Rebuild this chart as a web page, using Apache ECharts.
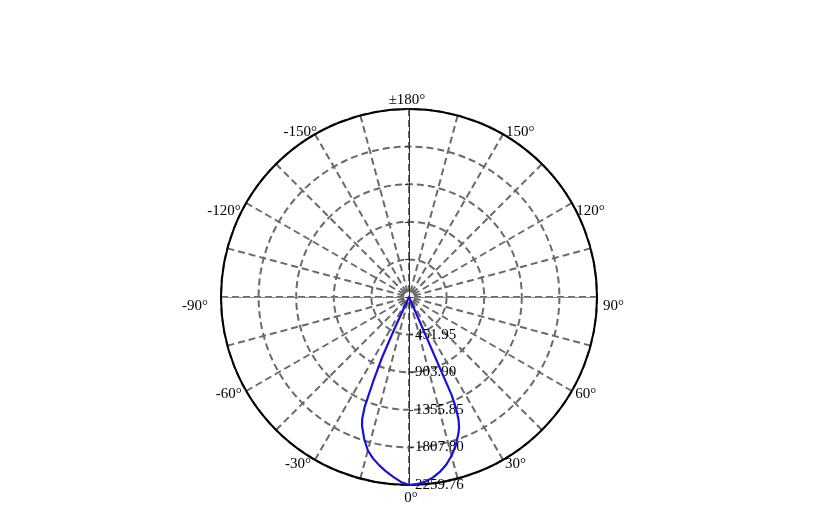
<!DOCTYPE html>
<html>
	<head>
		<meta charset="UTF-8">
		<title>配光曲线</title>
		<style type="text/css">
			body{
				margin: 0;
				background: #fff;
			}
			#main{
				width: 824px;
				height: 527px;
			}
		</style>
	</head>
	<body>
		<div id="main"></div>
		<script src="https://cdn.jsdelivr.net/npm/echarts@6.0.0/dist/echarts.min.js" type="text/javascript"></script>
		<script type="text/javascript">
			// 角度(°) 与 光强
			var angles = [-180, -90, -30, -25.5, -24.5, -24, -23, -22, -21, -20, -17.5, -15, -12.5, -10, -7.5, -5, -2.5,
				0, 2.5, 5, 7.5, 10, 12.5, 15, 17.5, 20, 21, 22, 23, 23.5, 24.5, 30, 90, 180];
			var intensity = [0, 0, 0, 20, 450, 800, 1100, 1420, 1570, 1650, 1790, 1910, 1990, 2055, 2115, 2170, 2225,
				2259.76, 2250, 2230, 2190, 2135, 2065, 1975, 1870, 1740, 1680, 1590, 1440, 1280, 20, 0, 0, 0];
			// 刻度
			var maxIntensity = 2259.76;
			var radiusLabels = ['451.95', '903.90', '1355.85', '1807.80', '2259.76'];
			var angleTicks = [0, 30, 60, 90, 120, 150, 180, 210, 240, 270, 300, 330];
			var angleLabels = ['0°', '30°', '60°', '90°', '120°', '150°', '±180°', '-150°', '-120°', '-90°', '-60°', '-30°'];

			// 角度标签的微调 [dx, dy] (负的 padding 只起一半作用, 所以数值偏大)
			var labelNudge = [[2, 3], [0, -13], [0, -13], [2, 9], [1, 35], [1, 18], [-2, 6],
				[4, 18], [-2, 36], [-9, 9], [-1, -13], [-2, -13]];

			var font = 'Liberation Serif, Times New Roman, serif';
			var fontSize = 15;
			var center = [409, 297];
			var R = 188;
			var step = maxIntensity / radiusLabels.length;

			var data = [];
			for(var i = 0; i < angles.length; i++){
				data.push([intensity[i], angles[i]]);
			}

			// 按 echarts 的对齐规则换算成 padding
			var rich = {};
			for(var k = 0; k < angleTicks.length; k++){
				var a = angleTicks[k] * Math.PI / 180;
				var sx = Math.sin(a), sy = Math.cos(a);
				var dx = labelNudge[k][0], dy = labelNudge[k][1];
				var p = [0, 0, 0, 0];
				if(Math.abs(sx) < 0.3){
					if(dx > 0) p[3] = 2 * dx; else p[1] = -2 * dx;
				}else if(sx > 0){
					p[3] = dx;
				}else{
					p[1] = -dx;
				}
				if(Math.abs(sy) < 0.3){
					if(dy > 0) p[0] = 2 * dy; else p[2] = -2 * dy;
				}else if(sy > 0){
					p[0] = dy;
				}else{
					p[2] = -dy;
				}
				rich['a' + k] = {
					color: '#000',
					fontSize: fontSize,
					fontFamily: font,
					lineHeight: fontSize,
					padding: p
				};
			}

			// 辅助的细线(竖直/水平)
			function helperAngle(idx, start){
				return {
					polarIndex: idx, type: 'value', min: 0, max: 360, startAngle: start,
					axisLine: {show: false}, axisTick: {show: false},
					axisLabel: {show: false}, splitLine: {show: false}
				};
			}
			function helperRadius(idx, color, ticks){
				return {
					polarIndex: idx, type: 'value', min: 0, max: maxIntensity, interval: step,
					axisLine: {show: true, lineStyle: {color: color, width: 1}},
					axisTick: {show: ticks, length: 4, lineStyle: {color: color}},
					axisLabel: {show: false}, splitLine: {show: false}
				};
			}

			var myChart = echarts.init(document.getElementById('main'));
			var option = {
				animation: false,
				polar: [
					{center: center, radius: R},
					{center: center, radius: R},
					{center: center, radius: R},
					{center: center, radius: R}
				],
				angleAxis: [
					{
						polarIndex: 0,
						type: 'value',
						min: 0,
						max: 360,
						interval: 15,
						startAngle: 270,
						clockwise: false,
						axisLine: {lineStyle: {color: '#000', width: 2}},
						axisTick: {show: false},
						axisLabel: {
							margin: 4,
							color: '#000',
							fontSize: fontSize,
							fontFamily: font,
							rich: rich,
							formatter: function(v){
								var k = angleTicks.indexOf(v);
								return k < 0 ? '' : '{a' + k + '|' + angleLabels[k] + '}';
							}
						},
						splitLine: {lineStyle: {color: '#6a6a6a', width: 2, type: [7, 4]}}
					},
					helperAngle(1, 90),
					helperAngle(2, 0),
					helperAngle(3, 180)
				],
				radiusAxis: [
					{
						polarIndex: 0,
						type: 'value',
						min: 0,
						max: maxIntensity,
						interval: step,
						axisLine: {lineStyle: {color: '#333', width: 1}},
						axisTick: {length: 4, lineStyle: {color: '#333'}},
						axisLabel: {
							margin: 6,
							color: '#000',
							fontSize: fontSize,
							fontFamily: font,
							padding: [0, 0, 3, 0],
							formatter: function(v, idx){
								return idx == 0 ? '' : radiusLabels[idx - 1];
							}
						},
						splitLine: {lineStyle: {color: '#6a6a6a', width: 2, type: [7, 4]}}
					},
					helperRadius(1, '#333', true),
					helperRadius(2, '#888', false),
					helperRadius(3, '#888', false)
				],
				series: [
					{
						type: 'line',
						coordinateSystem: 'polar',
						polarIndex: 0,
						symbol: 'none',
						lineStyle: {color: '#1a10dd', width: 2.2},
						data: data
					}
				]
			};
			myChart.setOption(option);
		</script>
	</body>
</html>
